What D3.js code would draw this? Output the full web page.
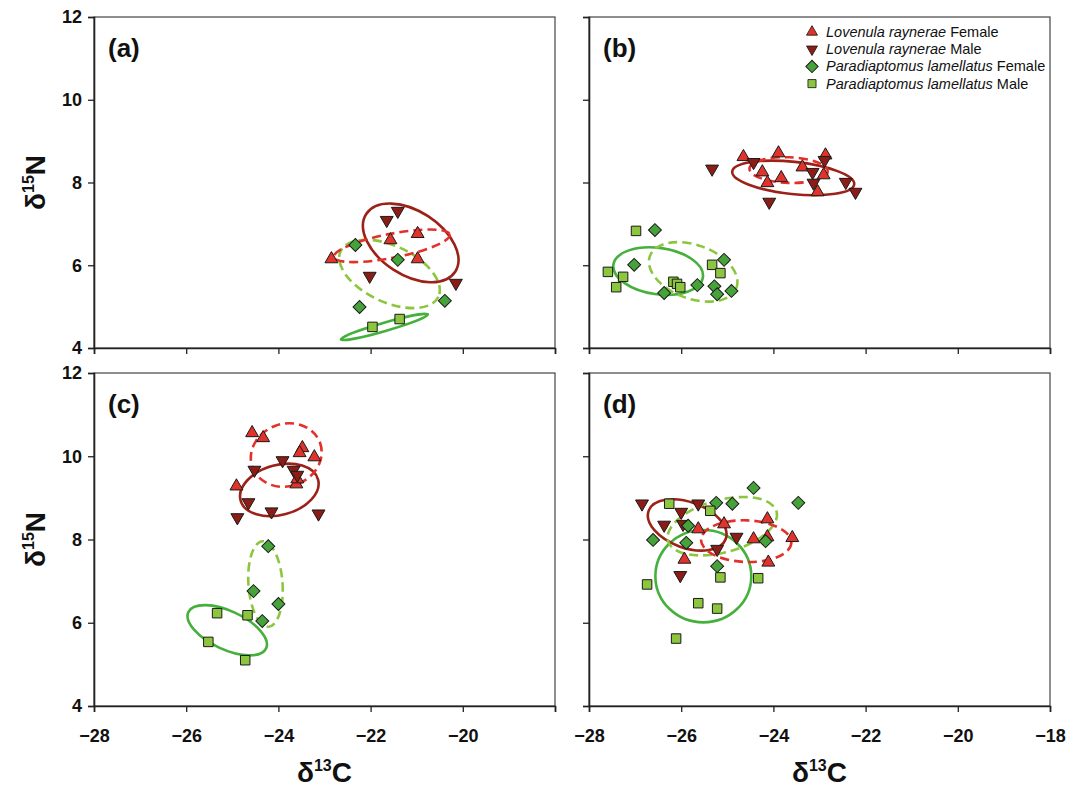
<!DOCTYPE html>
<html>
<head>
<meta charset="utf-8">
<script src="https://cdn.jsdelivr.net/npm/d3@7"></script>
<style>
  body { margin: 0; background: #fff; }
  svg { display: block; font-family: "Liberation Sans", Arial, sans-serif; }
</style>
</head>
<body>
<svg id="chart" width="1079" height="788"></svg>
<script>
// δ13C / δ15N values, one small array per group and panel
const lrFemaleA = [[-22.85, 6.15], [-21.57, 6.61], [-20.98, 6.76], [-20.98, 6.15]];
const lrMaleA = [[-21.41, 7.31], [-21.65, 7.09], [-22.02, 5.74], [-20.15, 5.57]];
const plFemaleA = [[-22.33, 6.49], [-21.41, 6.13], [-22.24, 4.99], [-20.39, 5.14]];
const plMaleA = [[-21.96, 4.51], [-21.37, 4.70]];

const lrFemaleB = [[-24.65, 8.62], [-23.89, 8.71], [-22.87, 8.66], [-24.24, 8.25], [-23.83, 8.11],
  [-24.13, 7.99], [-23.37, 8.37], [-23.04, 7.77], [-22.91, 8.18]];
const lrMaleB = [[-25.33, 8.33], [-24.09, 7.53], [-23.15, 8.25], [-23.13, 7.99], [-22.43, 8.01],
  [-22.22, 7.77], [-22.89, 8.54], [-24.43, 8.49]];
const plFemaleB = [[-26.57, 6.85], [-27.02, 6.01], [-26.37, 5.33], [-25.65, 5.52], [-25.28, 5.49],
  [-25.22, 5.30], [-25.07, 6.13], [-24.91, 5.38]];
const plMaleB = [[-26.98, 6.83], [-27.59, 5.84], [-27.26, 5.72], [-27.41, 5.47], [-26.17, 5.60],
  [-26.09, 5.55], [-26.02, 5.47], [-25.33, 6.01], [-25.15, 5.81]];

const lrFemaleC = [[-24.57, 10.56], [-24.33, 10.44], [-23.48, 10.20], [-23.54, 10.08], [-23.22, 9.98],
  [-24.91, 9.28], [-23.61, 9.33], [-23.59, 9.45]];
const lrMaleC = [[-23.91, 9.90], [-24.52, 9.67], [-23.67, 9.67], [-23.59, 9.55], [-24.65, 8.89],
  [-24.15, 8.67], [-24.89, 8.53], [-23.13, 8.62]];
const plFemaleC = [[-24.22, 7.84], [-24.54, 6.76], [-24.00, 6.45], [-24.35, 6.04]];
const plMaleC = [[-25.33, 6.23], [-24.67, 6.18], [-25.52, 5.54], [-24.72, 5.10]];

const lrFemaleD = [[-25.07, 8.37], [-25.63, 8.25], [-24.13, 8.49], [-24.43, 8.01], [-24.13, 8.06],
  [-23.59, 8.04], [-24.11, 7.45], [-25.93, 7.52]];
const lrMaleD = [[-26.85, 8.86], [-26.00, 8.66], [-26.37, 8.35], [-25.96, 8.37], [-25.63, 8.86],
  [-24.80, 8.06], [-25.22, 7.77], [-26.02, 7.14]];
const plFemaleD = [[-24.43, 9.24], [-23.46, 8.88], [-24.89, 8.86], [-25.24, 8.88], [-25.85, 8.33],
  [-26.61, 7.99], [-25.89, 7.92], [-25.22, 7.36], [-24.17, 7.96]];
const plMaleD = [[-26.26, 8.86], [-25.37, 8.69], [-25.15, 7.09], [-24.33, 7.07], [-26.74, 6.92],
  [-25.63, 6.47], [-25.22, 6.34], [-26.11, 5.62]];

// standard ellipses: group, centre (δ13C, δ15N), semi-axes in δ13C / δ15N units, rotation (deg)
const seaA = [["plM", -21.70, 4.51, 0.98, 0.10, -16], ["plF", -21.59, 5.79, 1.17, 0.68, 25],
  ["lrM", -21.13, 6.54, 1.15, 0.77, 33], ["lrF", -21.54, 6.47, 1.28, 0.29, -11]];
const seaB = [["plM", -26.50, 5.86, 0.98, 0.56, 8], ["plF", -25.74, 5.84, 1.00, 0.65, 20],
  ["lrM", -23.57, 8.11, 1.33, 0.39, 6], ["lrF", -23.67, 8.30, 0.85, 0.31, 2]];
const seaC = [["plM", -25.11, 5.82, 0.93, 0.46, 25], ["plF", -24.28, 6.93, 0.37, 1.03, -4],
  ["lrM", -23.98, 9.19, 0.87, 0.60, -15], ["lrF", -23.83, 10.03, 0.78, 0.75, -20]];
const seaD = [["plM", -25.52, 7.12, 1.04, 1.11, 0], ["lrM", -25.87, 8.35, 0.89, 0.55, 20],
  ["plF", -25.11, 8.32, 1.22, 0.63, -15], ["lrF", -24.59, 7.96, 0.98, 0.50, 2]];

const panelLabels = ["(a)", "(b)", "(c)", "(d)"];
const xTicks = [-28, -26, -24, -22, -20, -18];
const yTicks = [4, 6, 8, 10, 12];
const legendSpecies = ["Lovenula raynerae", "Lovenula raynerae", "Paradiaptomus lamellatus", "Paradiaptomus lamellatus"];
const legendSex = ["Female", "Male", "Female", "Male"];

const style = {
  lrF: {fill: "#e0332b", line: "#e3302a", dash: "9,5", symbol: "up"},
  lrM: {fill: "#8c1c16", line: "#9c2219", dash: null, symbol: "down"},
  plF: {fill: "#45a33a", line: "#8cc63f", dash: "9,5", symbol: "diamond"},
  plM: {fill: "#8cc63f", line: "#45b03b", dash: null, symbol: "square"}
};
const legendKeys = ["lrF", "lrM", "plF", "plM"];

const panels = [
  {label: panelLabels[0], left: 94, top: 17, h: 331, xl: false, yl: true, xMax: false,
    pts: {lrF: lrFemaleA, lrM: lrMaleA, plF: plFemaleA, plM: plMaleA}, sea: seaA},
  {label: panelLabels[1], left: 589, top: 17, h: 331, xl: false, yl: false, xMax: true, legend: true,
    pts: {lrF: lrFemaleB, lrM: lrMaleB, plF: plFemaleB, plM: plMaleB}, sea: seaB},
  {label: panelLabels[2], left: 94, top: 373, h: 333, xl: true, yl: true, xMax: false,
    pts: {lrF: lrFemaleC, lrM: lrMaleC, plF: plFemaleC, plM: plMaleC}, sea: seaC},
  {label: panelLabels[3], left: 589, top: 373, h: 333, xl: true, yl: false, xMax: true,
    pts: {lrF: lrFemaleD, lrM: lrMaleD, plF: plFemaleD, plM: plMaleD}, sea: seaD}
];
const pw = 461;

const svg = d3.select("#chart");

function symbolPath(kind) {
  if (kind === "up") return {d: d3.symbol(d3.symbolTriangle, 72)(), rot: 0};
  if (kind === "down") return {d: d3.symbol(d3.symbolTriangle, 72)(), rot: 180};
  if (kind === "diamond") return {d: d3.symbol(d3.symbolSquare, 84)(), rot: 45};
  return {d: d3.symbol(d3.symbolSquare, 90)(), rot: 0};
}

for (const p of panels) {
  const x = d3.scaleLinear().domain([-28, -18]).range([0, pw]);
  const y = d3.scaleLinear().domain([4, 12]).range([p.h, 0]);
  const g = svg.append("g").attr("transform", `translate(${p.left},${p.top})`);

  g.append("rect").attr("width", pw).attr("height", p.h)
    .attr("fill", "none").attr("stroke", "#444").attr("stroke-width", 1.2);

  const xAxis = d3.axisBottom(x).tickValues(xTicks).tickSize(6).tickPadding(17)
    .tickFormat(d => (!p.xl || (d === -18 && !p.xMax)) ? "" : d3.format("d")(d));
  const gx = g.append("g").attr("transform", `translate(0,${p.h})`).call(xAxis);
  const yAxis = d3.axisLeft(y).tickValues(yTicks).tickSize(6).tickPadding(6)
    .tickFormat(d => p.yl ? d3.format("d")(d) : "");
  const gy = g.append("g").call(yAxis);
  for (const ax of [gx, gy]) {
    ax.select(".domain").attr("stroke", "#222").attr("stroke-width", 1.6);
    ax.selectAll(".tick line").attr("stroke", "#222").attr("stroke-width", 1.3);
    ax.selectAll(".tick text").attr("fill", "#111").attr("font-size", 18).attr("font-weight", "bold")
      .attr("font-family", "'Liberation Sans', Arial, sans-serif");
  }

  g.append("text").attr("x", 14).attr("y", 40).attr("font-size", 26).attr("font-weight", "bold")
    .attr("fill", "#111").text(p.label);

  // ellipses
  g.append("g").selectAll("ellipse").data(p.sea).join("ellipse")
    .attr("cx", d => x(d[1])).attr("cy", d => y(d[2]))
    .attr("rx", d => x(d[1] + d[3]) - x(d[1]))
    .attr("ry", d => y(d[2]) - y(d[2] + d[4]))
    .attr("transform", d => `rotate(${d[5]},${x(d[1])},${y(d[2])})`)
    .attr("fill", "none")
    .attr("stroke", d => style[d[0]].line)
    .attr("stroke-width", 2.6)
    .attr("stroke-dasharray", d => style[d[0]].dash);

  // points
  for (const key of legendKeys) {
    const s = style[key];
    const sym = symbolPath(s.symbol);
    g.append("g").selectAll("path").data(p.pts[key]).join("path")
      .attr("d", sym.d)
      .attr("transform", d => `translate(${x(d[0])},${y(d[1])}) rotate(${sym.rot})`)
      .attr("fill", s.fill).attr("stroke", "#1a1a1a").attr("stroke-width", 1);
  }

  if (p.legend) {
    const lg = g.append("g").attr("transform", "translate(223,15)");
    const rows = lg.selectAll("g").data(legendKeys).join("g")
      .attr("transform", (d, i) => `translate(0,${i * 17.2})`);
    rows.append("path")
      .attr("d", d => symbolPath(style[d].symbol).d)
      .attr("transform", d => {
        const sym = symbolPath(style[d].symbol);
        const sc = style[d].symbol === "diamond" ? 0.95 : 0.85;
        return `rotate(${sym.rot}) scale(${sc})`;
      })
      .attr("fill", d => style[d].fill).attr("stroke", "#1a1a1a").attr("stroke-width", 1);
    const t = rows.append("text").attr("x", 14).attr("y", 5).attr("font-size", 14.5).attr("fill", "#111");
    t.append("tspan").attr("font-style", "italic").text((d, i) => legendSpecies[i]);
    t.append("tspan").text((d, i) => " " + legendSex[i]);
  }

  if (p.yl) {
    const cy = p.top + p.h / 2;
    const yt = svg.append("text").attr("transform", `translate(45,${cy}) rotate(-90)`)
      .attr("text-anchor", "middle").attr("font-size", 28).attr("font-weight", "bold").attr("fill", "#111");
    yt.append("tspan").text("δ");
    yt.append("tspan").attr("font-size", 16).attr("dy", -11).text("15");
    yt.append("tspan").attr("dy", 11).text("N");
  }
  if (p.xl) {
    const cx = p.left + pw / 2;
    const xt = svg.append("text").attr("x", cx).attr("y", 782)
      .attr("text-anchor", "middle").attr("font-size", 28).attr("font-weight", "bold").attr("fill", "#111");
    xt.append("tspan").text("δ");
    xt.append("tspan").attr("font-size", 16).attr("dy", -11).text("13");
    xt.append("tspan").attr("dy", 11).text("C");
  }
}
</script>
</body>
</html>
